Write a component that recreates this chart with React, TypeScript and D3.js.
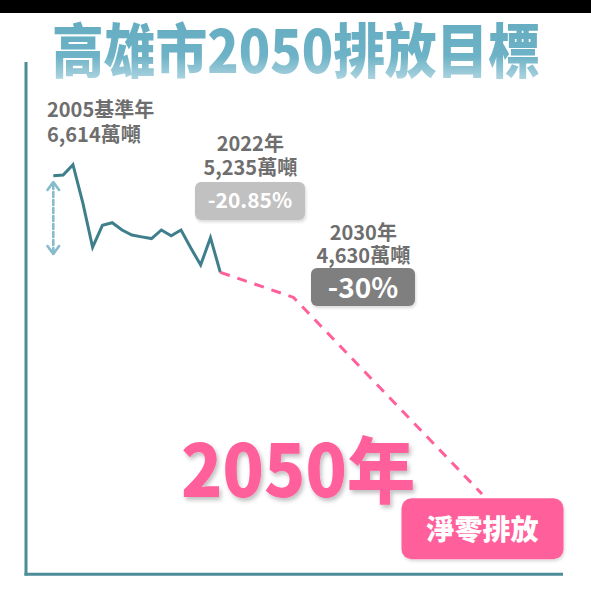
import React from "react";
import * as d3 from "d3";

const W = 591;
const H = 596;

const histYears = [2005, 2006, 2007, 2008, 2009, 2010, 2011, 2012, 2013, 2014, 2015, 2016, 2017, 2018, 2019, 2020, 2021, 2022];
const histValues = [6614, 6624, 6771, 6230, 5592, 5906, 5943, 5839, 5767, 5741, 5717, 5839, 5757, 5839, 5582, 5339, 5729, 5235];

const targetYears = [2022, 2030, 2050];
const targetValues = [5235, 4630, 0];

const titleText = "高雄市2050排放目標";
const baseLabel = ["2005基準年", "6,614萬噸"];
const label2022 = ["2022年", "5,235萬噸"];
const pct2022 = "-20.85%";
const label2030 = ["2030年", "4,630萬噸"];
const pct2030 = "-30%";
const bigYear = "2050年";
const netZero = "淨零排放";

const FONT = "'Noto Sans CJK TC', 'Noto Sans', sans-serif";
const TEAL = "#3f7f8b";
const AXIS = "#4b8c98";
const PINK = "#ff5f9a";
const GRAY_TXT = "#6e6e6e";

// Illustrative (piecewise) scales as in the original infographic
const x = d3.scaleLinear().domain([2005, 2022, 2030, 2050]).range([53.3, 220.3, 293.3, 482]);
const y = d3.scaleLinear().domain([0, 4630, 5235, 6771]).range([494, 297.3, 272.3, 164.7]);

export default function App() {
  const histLine = d3
    .line<number>()
    .x((_, i) => x(histYears[i]))
    .y((v) => y(v))(histValues) as string;
  const targetLine = d3
    .line<number>()
    .x((_, i) => x(targetYears[i]))
    .y((v) => y(v))(targetValues) as string;

  const x2022 = x(2022) + 30;
  const x2030 = x(2030) + 70;

  return (
    <div style={{ position: "absolute", left: 0, top: 0, width: W, height: H }}>
      <svg width={W} height={H} viewBox={`0 0 ${W} ${H}`} style={{ display: "block", background: "#fff" }}>
        <defs>
          <linearGradient id="titleGrad" x1="0" y1="0" x2="0" y2="1">
            <stop offset="0" stopColor="#63abc1" />
            <stop offset="0.6" stopColor="#6db2c6" />
            <stop offset="1" stopColor="#c9e3eb" />
          </linearGradient>
          <filter id="shadow" x="-10%" y="-10%" width="130%" height="140%">
            <feDropShadow dx="2" dy="3" stdDeviation="2" floodColor="#000" floodOpacity="0.25" />
          </filter>
          <filter id="softShadow" x="-10%" y="-10%" width="130%" height="140%">
            <feDropShadow dx="1" dy="2" stdDeviation="1.5" floodColor="#000" floodOpacity="0.15" />
          </filter>
        </defs>

        {/* top black band */}
        <rect x={0} y={0} width={W} height={13} fill="#000" />

        {/* title */}
        <text x={52} y={73} fontFamily={FONT} fontWeight={900} fontSize={59} textLength={488} lengthAdjust="spacingAndGlyphs" fill="url(#titleGrad)">
          {titleText}
        </text>

        {/* axes */}
        <line x1={26} y1={62} x2={26} y2={575.5} stroke={AXIS} strokeWidth={3} />
        <line x1={24.5} y1={574.3} x2={563} y2={574.3} stroke={AXIS} strokeWidth={3} />

        {/* double arrow */}
        <g stroke="#85bccb" strokeWidth={2.6} fill="none" strokeLinecap="round" strokeLinejoin="round">
          <line x1={53.3} y1={184} x2={53.3} y2={251} strokeDasharray="5 3" />
          <polyline points="47.5,190 53.3,182 59.1,190" />
          <polyline points="47.5,246 53.3,254 59.1,246" />
        </g>

        {/* historical line */}
        <path d={histLine} fill="none" stroke={TEAL} strokeWidth={3} strokeLinejoin="miter" />
        {/* target dashed line */}
        <path d={targetLine} fill="none" stroke={PINK} strokeWidth={3} strokeDasharray="10 8" strokeLinejoin="round" />

        {/* 2005 label */}
        <text x={47} y={117} fontFamily={FONT} fontWeight={700} fontSize={20} fill={GRAY_TXT}>
          <tspan x={47} y={117}>{baseLabel[0]}</tspan>
          <tspan x={47} y={142}>{baseLabel[1]}</tspan>
        </text>

        {/* 2022 label */}
        <text fontFamily={FONT} fontWeight={700} fontSize={20} fill={GRAY_TXT} textAnchor="middle">
          <tspan x={x2022} y={151}>{label2022[0]}</tspan>
          <tspan x={x2022} y={175}>{label2022[1]}</tspan>
        </text>
        <rect x={195} y={182} width={110} height={38} rx={6} fill="#c1c1c1" filter="url(#softShadow)" />
        <text x={250} y={208} textAnchor="middle" fontFamily={FONT} fontWeight={700} fontSize={21} fill="#fff">
          {pct2022}
        </text>

        {/* 2030 label */}
        <text fontFamily={FONT} fontWeight={700} fontSize={20} fill={GRAY_TXT} textAnchor="middle">
          <tspan x={x2030} y={240}>{label2030[0]}</tspan>
          <tspan x={x2030} y={263}>{label2030[1]}</tspan>
        </text>
        <rect x={311} y={268} width={104} height={38} rx={6} fill="#7f7f7f" filter="url(#softShadow)" />
        <text x={363} y={298} textAnchor="middle" fontFamily={FONT} fontWeight={700} fontSize={28} fill="#fff">
          {pct2030}
        </text>

        {/* 2050 big text */}
        <text x={181} y={497} fontFamily={FONT} fontWeight={900} fontSize={72} fill={PINK} textLength={234} lengthAdjust="spacingAndGlyphs" filter="url(#shadow)">
          {bigYear}
        </text>

        {/* net zero box */}
        <rect x={401.5} y={498.3} width={162} height={61} rx={10} fill={PINK} filter="url(#softShadow)" />
        <text x={482.5} y={539.5} textAnchor="middle" fontFamily={FONT} fontWeight={900} fontSize={28} fill="#fff">
          {netZero}
        </text>
      </svg>
    </div>
  );
}
